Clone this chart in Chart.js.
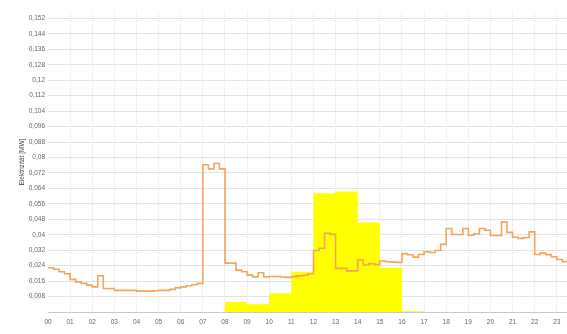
<!DOCTYPE html>
<html>
<head>
<meta charset="utf-8">
<script src="https://cdn.jsdelivr.net/npm/chart.js@4/dist/chart.umd.min.js"></script>
<style>
  html,body{margin:0;padding:0;background:#fff;}
  #wrap{width:567px;height:334px;}
</style>
</head>
<body>
<div id="wrap"><canvas id="chart" width="567" height="334"></canvas></div>
<script>
// hour labels along the bottom
const hourLabels = ['00','01','02','03','04','05','06','07','08','09','10','11',
                    '12','13','14','15','16','17','18','19','20','21','22','23'];

// electricity load, one value per quarter hour starting 00:00 (MW)
const loadQuarter = [
  0.0229,0.0221,0.0208,0.0198, 0.0169,0.0156,0.0148,0.0139,
  0.0130,0.0188,0.0122,0.0122, 0.0112,0.0112,0.0112,0.0112,
  0.0108,0.0108,0.0108,0.0110, 0.0112,0.0112,0.0117,0.0125,
  0.0130,0.0136,0.0141,0.0148, 0.0762,0.0741,0.0769,0.0741,
  0.0253,0.0253,0.0217,0.0208, 0.0191,0.0182,0.0203,0.0182,
  0.0184,0.0184,0.0181,0.0179, 0.0183,0.0187,0.0190,0.0198,
  0.0318,0.0330,0.0408,0.0402, 0.0226,0.0226,0.0213,0.0213,
  0.0269,0.0243,0.0250,0.0245, 0.0264,0.0260,0.0258,0.0257,
  0.0302,0.0296,0.0284,0.0298, 0.0312,0.0308,0.0318,0.0350,
  0.0432,0.0401,0.0401,0.0432, 0.0397,0.0405,0.0432,0.0423,
  0.0396,0.0396,0.0465,0.0412, 0.0387,0.0381,0.0386,0.0415,
  0.0298,0.0305,0.0297,0.0286, 0.0272,0.0261,0.0255
];

// PV production, one value per hour starting 00:00 (MW)
const pvHourly = [
  0,0,0,0,0,0,0,0,
  0.0052,0.0040,0.0096,0.0208,0.0615,0.0624,0.0463,0.0229,
  0.0004,0,0,0,0,0,0,0
];

const yStep = 0.008;
const yMax = 0.1553;
const xMax = 23.46;

const loadPoints = loadQuarter.map((v,i)=>({x:i/4, y:v}));
const pvPoints = pvHourly.map((v,i)=>({x:i, y:v}));
pvPoints.push({x:pvHourly.length, y:0});

const fmt = v => v===0 ? '' : String(parseFloat(v.toFixed(3))).replace('.',',');

Chart.defaults.font.family = "'Liberation Sans', Arial, sans-serif";

new Chart(document.getElementById('chart').getContext('2d'),{
  type:'line',
  data:{datasets:[
    {label:'Elektrizität', data:loadPoints, stepped:true, borderColor:'#f7a35c', borderWidth:1.6,
     pointRadius:0, fill:false},
    {label:'PV', data:pvPoints, stepped:true, borderColor:'rgba(0,0,0,0)', borderWidth:0,
     backgroundColor:'#ffff00', pointRadius:0, fill:'origin'}
  ]},
  options:{
    responsive:false, animation:false, devicePixelRatio:1,
    layout:{padding:{top:12,right:0,left:0,bottom:0}},
    plugins:{legend:{display:false}, tooltip:{enabled:false}},
    scales:{
      x:{type:'linear', min:0, max:xMax,
        afterFit:s=>{s.height=22;},
        grid:{drawTicks:false, color:c=>c.tick && c.tick.value===0 ? 'rgba(0,0,0,0)' : '#e3e3e3'},
        border:{display:true, color:'#c8c8c8', dash:[1,1]},
        ticks:{stepSize:1, includeBounds:false, autoSkip:false, maxRotation:0, padding:6,
          color:'#666', font:{size:6.5},
          callback:v=>hourLabels[v] !== undefined ? hourLabels[v] : ''}
      },
      y:{min:0, max:yMax,
        afterFit:s=>{s.width=48;},
        grid:{drawTicks:false, color:c=>c.tick && c.tick.value===0 ? 'rgba(0,0,0,0)' : '#e3e3e3'},
        border:{display:false},
        title:{display:true, text:'Elektrizität [MW]', color:'#444', font:{size:6.5},
          padding:{top:18,bottom:0}},
        ticks:{stepSize:yStep, includeBounds:false, padding:3, color:'#666', font:{size:6.5},
          callback:fmt}
      }
    }
  }
});
</script>
</body>
</html>
